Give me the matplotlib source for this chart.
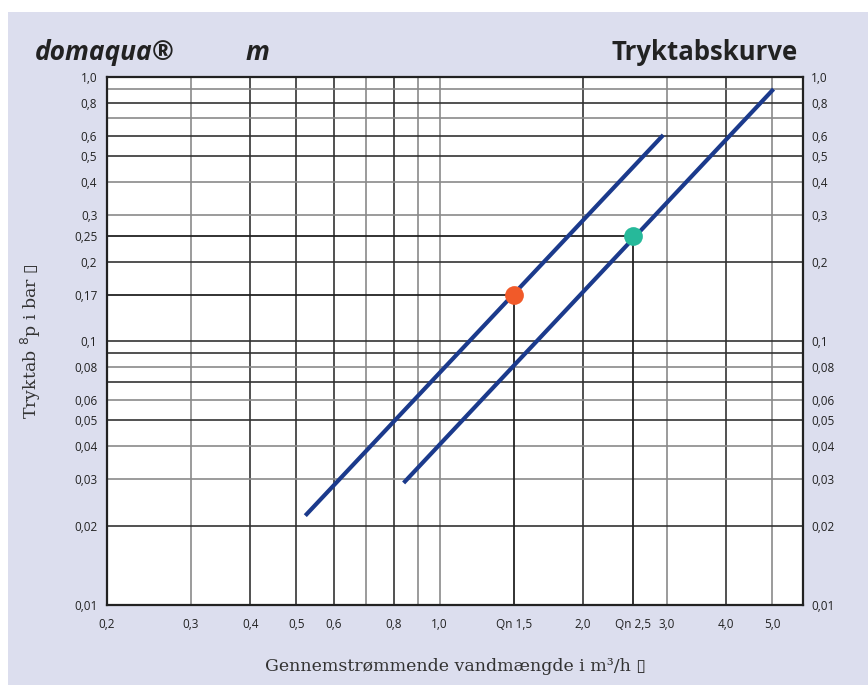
import matplotlib.pyplot as plt
from matplotlib.patches import Rectangle

# curves (m3/h, bar)
curve_qn15_x = [0.522, 2.95]
curve_qn15_y = [0.0218, 0.603]
curve_qn25_x = [0.840, 5.03]
curve_qn25_y = [0.029, 0.90]

# nominal flow markers
dot_x = [1.434, 2.553]
dot_y = [0.150, 0.25]
dot_colors = ['#f15a29', '#26b99a']

# grid
xgrid = [0.3, 0.4, 0.5, 0.6, 0.7, 0.8, 0.9, 1.0, 2.0, 3.0, 4.0, 5.0]
ygrid = [0.9, 0.8, 0.7, 0.6, 0.5, 0.4, 0.3, 0.2, 0.1, 0.09, 0.08, 0.07,
         0.06, 0.05, 0.04, 0.03, 0.02]

# tick labels
xticks = [0.2, 0.3, 0.4, 0.5, 0.6, 0.8, 1.0, 1.434, 2.0, 2.553, 3.0, 4.0, 5.0]
xlabels = ['0,2', '0,3', '0,4', '0,5', '0,6', '0,8', '1,0', 'Qn 1,5', '2,0',
           'Qn 2,5', '3,0', '4,0', '5,0']
yticks_l = [1.0, 0.8, 0.6, 0.5, 0.4, 0.3, 0.25, 0.2, 0.15, 0.1, 0.08, 0.06,
            0.05, 0.04, 0.03, 0.02, 0.01]
ylabels_l = ['1,0', '0,8', '0,6', '0,5', '0,4', '0,3', '0,25', '0,2', '0,17',
             '0,1', '0,08', '0,06', '0,05', '0,04', '0,03', '0,02', '0,01']
yticks_r = [1.0, 0.8, 0.6, 0.5, 0.4, 0.3, 0.2, 0.1, 0.08, 0.06, 0.05, 0.04,
            0.03, 0.02, 0.01]
ylabels_r = ['1,0', '0,8', '0,6', '0,5', '0,4', '0,3', '0,2', '0,1', '0,08',
             '0,06', '0,05', '0,04', '0,03', '0,02', '0,01']

W, H = 868, 685
BG = '#dcdeee'
NAVY = '#1b3a8c'
TICKFONT = 'Open Sans'
SERIF = ['DejaVu Serif', 'DejaVu Sans']

fig = plt.figure(figsize=(W / 100, H / 100), dpi=100)
fig.patch.set_facecolor('white')
fig.patches.append(Rectangle((8 / W, 0), 1, 1 - 12 / H, transform=fig.transFigure,
                             facecolor=BG, edgecolor='none', zorder=-10))

ax = fig.add_axes([107 / W, 80 / H, 696 / W, 528 / H])
ax.set_facecolor('white')
ax.set_xscale('log')
ax.set_yscale('log')
ax.set_xlim(0.2, 5.8)
ax.set_ylim(0.01, 1.0)

# grid lines, some darker some lighter as in the print
for v in xgrid:
    c = '#333333' if v in (0.4, 0.5, 0.6, 0.8, 2.0, 4.0) else '#8a8a8a'
    ax.vlines(v, 0.01, 1.0, color=c, lw=1.2, zorder=1)
for v in ygrid:
    c = '#8a8a8a' if v in (0.9, 0.7, 0.4, 0.3, 0.08, 0.06, 0.04, 0.03) else '#333333'
    ax.hlines(v, 0.2, 5.8, color=c, lw=1.2, zorder=1)

# reference lines to the markers
for x, y in zip(dot_x, dot_y):
    ax.vlines(x, 0.01, y, color='#222222', lw=1.3, zorder=2)
    ax.hlines(y, 0.2, x, color='#222222', lw=1.3, zorder=2)

ax.plot(curve_qn15_x, curve_qn15_y, color=NAVY, lw=3, solid_capstyle='butt', zorder=3)
ax.plot(curve_qn25_x, curve_qn25_y, color=NAVY, lw=3, solid_capstyle='butt', zorder=3)
for x, y, c in zip(dot_x, dot_y, dot_colors):
    ax.plot(x, y, 'o', ms=13.5, color=c, mec='none', zorder=4)

for s in ax.spines.values():
    s.set_color('#222222')
    s.set_linewidth(1.6)

ax.minorticks_off()
ax.set_xticks(xticks)
ax.set_xticklabels(xlabels, fontsize=8.5, family=TICKFONT, color='#222222')
ax.set_yticks(yticks_l)
ax.set_yticklabels(ylabels_l, fontsize=8.5, family=TICKFONT, color='#222222')
ax.tick_params(axis='both', length=0)
ax.tick_params(axis='x', pad=9)
ax.tick_params(axis='y', pad=7)

ax2 = ax.twinx()
ax2.set_yscale('log')
ax2.set_ylim(0.01, 1.0)
ax2.minorticks_off()
ax2.set_yticks(yticks_r)
ax2.set_yticklabels(ylabels_r, fontsize=8.5, family=TICKFONT, color='#222222')
ax2.tick_params(axis='y', length=0, pad=6)
for s in ax2.spines.values():
    s.set_visible(False)

ax.set_xlabel('Gennemstrømmende vandmængde i m³/h \u25af', family=SERIF,
              fontsize=12.5, color='#333333', labelpad=20)
ax.set_ylabel('Tryktab $^{8}$p i bar \u25af', family=SERIF,
              fontsize=12.5, color='#333333', labelpad=22)

fig.text(35 / W, 1 - 60 / H, 'domaqua®', fontsize=19, fontweight='bold',
         style='italic', family='Open Sans', color='#222222')
fig.text(246 / W, 1 - 60 / H, 'm', fontsize=19, fontweight='bold',
         style='italic', family='Open Sans', color='#222222')
fig.text(798 / W, 1 - 60 / H, 'Tryktabskurve', fontsize=18.5, fontweight='bold',
         family='Open Sans', color='#222222', ha='right')

fig.savefig('out.png', dpi=100, facecolor=fig.get_facecolor())
